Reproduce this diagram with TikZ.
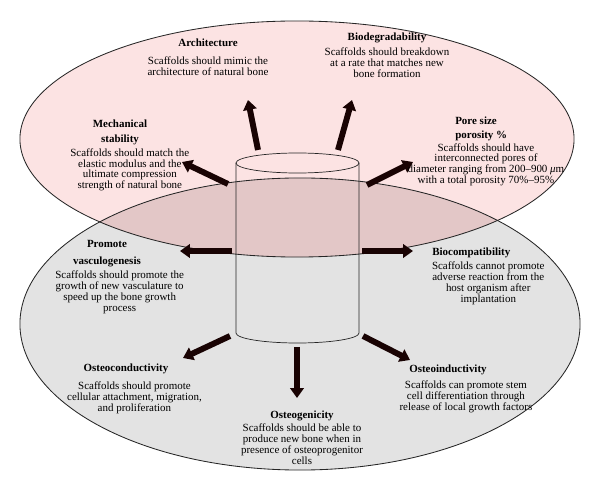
\documentclass[tikz,border=0pt]{standalone}
\usepackage{fontspec}
\setmainfont{Liberation Serif}
\usetikzlibrary{positioning,arrows.meta}
\definecolor{shellpink}{rgb}{0.99,0.89,0.89}
\definecolor{shellgray}{rgb}{0.89,0.89,0.89}
\definecolor{overlaprose}{rgb}{0.89,0.78,0.78}
\definecolor{arrowdark}{rgb}{0.10,0.01,0.01}

\begin{document}
\begin{tikzpicture}[x=0.025cm, y=-0.025cm,
    txt/.style={align=center, inner sep=0pt, font=\fontsize{7.8}{7.75}\selectfont},
    ttl/.style={align=center, inner sep=0pt, font=\fontsize{7.8}{7.75}\selectfont\bfseries},
    ttlone/.style={ttl, text height=5pt, text depth=1.5pt},
    fat/.style={draw=arrowdark, line width=4.2pt, -{Triangle[length=7pt,width=9.5pt]}},
    rim/.style={draw=black!85, line width=0.5pt}]
  \useasboundingbox (0,0) rectangle (600,492);
  % the two shells
  \fill[shellpink] (297,139) ellipse [x radius=6.925cm, y radius=2.95cm];
  \fill[shellgray] (300,324) ellipse [x radius=7cm, y radius=3.65cm];
  \begin{scope}
    \clip (297,139) ellipse [x radius=6.925cm, y radius=2.95cm];
    \fill[overlaprose] (300,324) ellipse [x radius=7cm, y radius=3.65cm];
  \end{scope}
  \draw[rim, line width=0.6pt] (297,139) ellipse [x radius=6.925cm, y radius=2.95cm];
  \draw[rim, line width=0.6pt] (300,324) ellipse [x radius=7cm, y radius=3.65cm];
  % the scaffold cylinder
  \coordinate (cylT) at (297.5,163);
  \coordinate (cylB) at (297.5,333);
  \draw[rim] (cylT) ellipse [x radius=1.5375cm, y radius=0.25cm];
  \draw[rim] (236,163) -- (236,333) arc [start angle=180, end angle=360, x radius=1.5375cm, y radius=0.25cm] -- (359,163);
  % arrow ends
  \coordinate (archA) at (258,150);  \coordinate (archH) at (248,100);
  \coordinate (biodA) at (338,150);  \coordinate (biodH) at (352,100);
  \coordinate (mechA) at (228,184);  \coordinate (mechH) at (182,162);
  \coordinate (poreA) at (367,185);  \coordinate (poreH) at (413,162);
  \coordinate (vascA) at (232,251);  \coordinate (vascH) at (180,251);
  \coordinate (bcmpA) at (362,251);  \coordinate (bcmpH) at (413,251);
  \coordinate (condA) at (230,336);  \coordinate (condH) at (183,358);
  \coordinate (indA) at (363,336);   \coordinate (indH) at (410,360);
  \coordinate (genA) at (297,347);   \coordinate (genH) at (297,398);
  \draw[fat] (archA) -- (archH);
  \draw[fat] (biodA) -- (biodH);
  \draw[fat] (mechA) -- (mechH);
  \draw[fat] (poreA) -- (poreH);
  \draw[fat] (vascA) -- (vascH);
  \draw[fat] (bcmpA) -- (bcmpH);
  \draw[fat] (condA) -- (condH);
  \draw[fat] (indA) -- (indH);
  \draw[fat] (genA) -- (genH);
  % titles
  \node[ttlone] (archT) at (208,44) {Architecture};
  \node[ttlone] (biodT) at (387,38) {Biodegradability};
  \node[ttl] (mechT) at (120,132.5) {Mechanical\\[3pt]stability};
  \node[ttl, align=left, anchor=west] (poreT) at (455,129) {Pore size\\[2.2pt]porosity \%};
  \node[ttl] (vascT) at (107,253.5) {Promote\\[4.3pt]vasculogenesis};
  \node[ttlone, anchor=west] (bcmpT) at (432,253) {Biocompatibility};
  \node[ttlone] (condT) at (126,369) {Osteoconductivity};
  \node[ttlone, anchor=west] (indT) at (409,370) {Osteoinductivity};
  \node[ttlone] (genT) at (302,416) {Osteogenicity};
  % descriptions
  \node[txt, below=5.2pt of archT] (archD) {Scaffolds should mimic the\\architecture of natural bone};
  \node[txt, below=3.5pt of biodT] (biodD) {Scaffolds should breakdown\\at a rate that matches new\\bone formation};
  \node[txt, below=2pt of mechT, xshift=7pt] (mechD) {Scaffolds should match the\\elastic modulus and the\\ultimate compression\\strength of natural bone};
  \node[txt, below=1.3pt of poreT.south west, anchor=north, xshift=22pt] (poreD) {Scaffolds should have\\interconnected pores of\\diameter ranging from 200–900 \textit{μ}m\\with a total porosity 70\%–95\%};
  \node[txt, below=2.7pt of vascT, xshift=9pt] (vascD) {Scaffolds should promote the\\growth of new vasculature to\\speed up the bone growth\\process};
  \node[txt, below=2.7pt of bcmpT.south west, anchor=north, xshift=40pt] (bcmpD) {Scaffolds cannot promote\\adverse reaction from the\\host organism after\\implantation};
  \node[txt, below=5.6pt of condT, xshift=6pt] (condD) {Scaffolds should promote\\cellular attachment, migration,\\and proliferation};
  \node[txt, below=4.2pt of indT.south west, anchor=north, xshift=40.5pt] (indD) {Scaffolds can promote stem\\cell differentiation through\\release of local growth factors};
  \node[txt, below=2pt of genT] (genD) {Scaffolds should be able to\\produce new bone when in\\presence of osteoprogenitor\\cells};
\end{tikzpicture}
\end{document}
